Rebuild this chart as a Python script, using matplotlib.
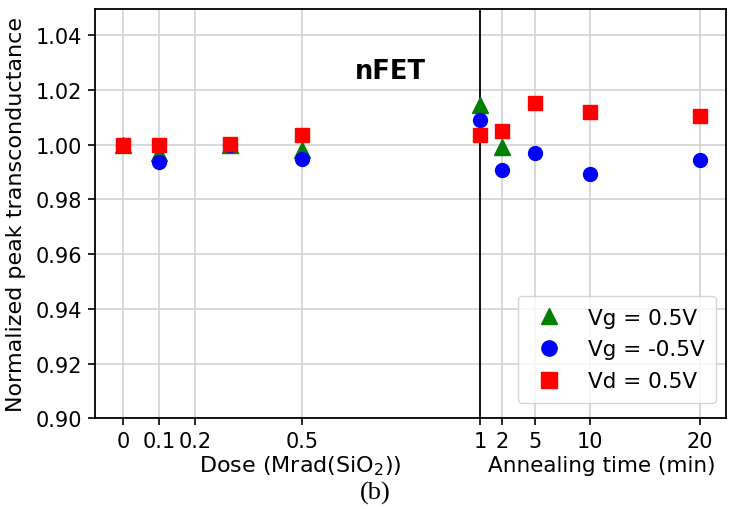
import numpy as np
import matplotlib
matplotlib.use("Agg")
import matplotlib.pyplot as plt

# Irradiation doses (Mrad(SiO2)) and annealing times (min)
dose_mrad = [0.0, 0.1, 0.3, 0.5, 1.0]
anneal_min = [2, 5, 10, 20]

# Normalized peak transconductance, irradiation phase
vg_pos_dose = [1.000, 0.997, 1.000, 0.998, 1.0145]
vg_neg_dose = [1.000, 0.9938, 1.000, 0.9948, 1.0091]
vd_dose = [1.000, 1.000, 1.0003, 1.0036, 1.0034]

# Normalized peak transconductance, annealing phase
vg_pos_anneal = [0.9993, np.nan, np.nan, np.nan]
vg_neg_anneal = [0.9909, 0.997, 0.9891, 0.9945]
vd_anneal = [1.0048, 1.0152, 1.0119, 1.0103]

dose_ticks = [0, 0.1, 0.2, 0.5, 1]
dose_tick_labels = ["0", "0.1", "0.2", "0.5", "1"]
anneal_ticks = [2, 5, 10, 20]
anneal_tick_labels = ["2", "5", "10", "20"]

# annealing time axis appended after the 1 Mrad point
ANNEAL_SCALE = 1 / 32.5


def anneal_x(t):
    return 1.0 + np.asarray(t, dtype=float) * ANNEAL_SCALE


x_all = np.concatenate([dose_mrad, anneal_x(anneal_min)])

fig = plt.figure(figsize=(7.3, 5.1), dpi=100)
ax = fig.add_axes([0.130, 0.178, 0.865, 0.802])

ms = 10
ax.plot(x_all, vg_pos_dose + vg_pos_anneal, "^", color="green", ms=ms + 1,
        ls="none", label="Vg = 0.5V", zorder=3)
ax.plot(x_all, vg_neg_dose + vg_neg_anneal, "o", color="blue", ms=ms,
        ls="none", label="Vg = -0.5V", zorder=4)
ax.plot(x_all, vd_dose + vd_anneal, "s", color="red", ms=ms,
        ls="none", label="Vd = 0.5V", zorder=5)

ax.axvline(1.0, color="black", lw=1.3, zorder=2)

xt = list(dose_ticks) + list(anneal_x(anneal_ticks))
ax.set_xticks(xt)
ax.set_xticklabels(dose_tick_labels + anneal_tick_labels)
ax.set_xlim(-0.08, 1.69)
ax.set_ylim(0.90, 1.0495)
ax.set_yticks(np.arange(0.90, 1.041, 0.02))
ax.yaxis.set_major_formatter(matplotlib.ticker.FormatStrFormatter("%.2f"))

ax.grid(True, color="#d3d3d3", lw=1.2, zorder=0)
ax.set_axisbelow(True)
ax.tick_params(labelsize=15, length=5, width=1.2, pad=4)
for s in ax.spines.values():
    s.set_linewidth(1.3)

ax.set_ylabel("Normalized peak transconductance", fontsize=16, labelpad=7)

ax.text(0.747, 1.027, "nFET", fontsize=18.5, fontweight="bold",
        ha="center", va="center")

ax.text(0.325, -0.115, r"Dose (Mrad(SiO$_2$))", transform=ax.transAxes,
        ha="center", va="center", fontsize=16)
ax.text(0.803, -0.115, "Annealing time (min)", transform=ax.transAxes,
        ha="center", va="center", fontsize=15.5)

fig.text(0.514, 0.033, "(b)", ha="center", va="center", fontsize=19,
         family="Liberation Serif")

leg = ax.legend(loc="lower right", bbox_to_anchor=(0.984, 0.037),
                borderaxespad=0, fontsize=15.5, markerscale=1.1,
                handlelength=1.8, handletextpad=0.9, labelspacing=0.55,
                borderpad=0.55, framealpha=0.8)

fig.savefig("out.png", dpi=100)
